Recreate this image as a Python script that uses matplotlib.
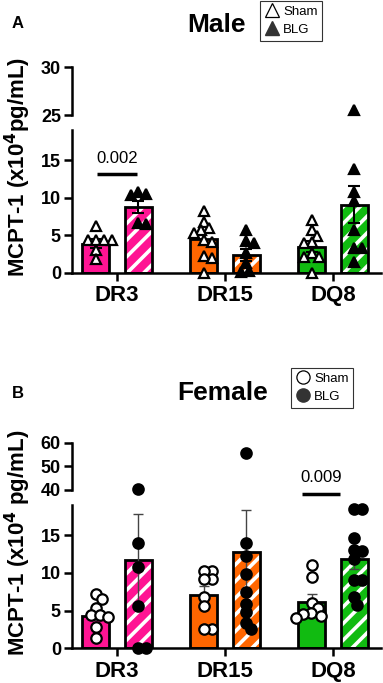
import numpy as np
import matplotlib
matplotlib.use('Agg')
import matplotlib.pyplot as plt
from matplotlib.lines import Line2D

plt.rcParams['font.family'] = ['Liberation Sans', 'DejaVu Sans']
plt.rcParams['hatch.linewidth'] = 2.6

# data (x10^4 pg/mL)
genotypes = ['DR3', 'DR15', 'DQ8']
colors = ['#FF1493', '#FF6600', '#11BB11']

male_sham = [
    [6.2, 4.4, 4.4, 4.4, 4.4, 3.0, 1.8],
    [8.2, 6.8, 6.0, 5.7, 5.3, 4.4, 4.1, 2.2, 2.0, 0.0],
    [7.0, 5.7, 4.9, 4.1, 4.0, 2.6, 2.1, 2.1, 0.0],
]
male_blg = [
    [10.8, 10.4, 10.5, 6.5, 6.6],
    [5.7, 4.2, 4.0, 2.6, 1.3, 0.3, 0.1],
    [25.5, 13.8, 10.8, 9.5, 5.7, 3.3, 3.3, 1.5],
]
male_sham_mean = [3.9, 4.5, 3.5]
male_sham_sem = [0.6, 0.8, 0.7]
male_blg_mean = [8.8, 2.4, 9.1]
male_blg_sem = [0.8, 0.8, 2.4]

female_sham = [
    [7.2, 6.5, 5.3, 4.4, 4.4, 4.2, 2.8, 1.4],
    [10.3, 10.3, 9.2, 9.2, 6.8, 5.6, 2.6, 2.6],
    [11.1, 9.4, 6.0, 5.3, 4.7, 4.5, 4.3, 4.0],
]
female_blg = [
    [40.4, 14.0, 10.8, 5.6, 0.0, 0.0],
    [55.6, 14.0, 12.3, 9.9, 7.4, 5.9, 4.8, 3.4, 2.5],
    [18.5, 18.5, 14.6, 13.0, 12.9, 11.8, 9.0, 9.0, 6.8, 5.8],
]
female_sham_mean = [4.3, 7.1, 6.1]
female_sham_sem = [0.6, 1.1, 1.1]
female_blg_mean = [11.7, 12.8, 11.9]
female_blg_sem = [6.1, 5.5, 1.4]

W, H = 383, 683
fig = plt.figure(figsize=(W / 100, H / 100), dpi=100)


def fx(px):
    return px / W


def fy(py):
    return 1 - py / H


XPX = 108.0  # pixels per category unit
OFF = 0.195
BW = 0.25


def swarm(vals, ypx, diam=8.0):
    # simple beeswarm, offsets in category units
    order = np.argsort(vals)[::-1]
    placed = []
    offs = np.zeros(len(vals))
    cands = np.arange(0, 30, 0.5)
    cands = np.concatenate([[0], np.ravel(np.column_stack([cands[1:], -cands[1:]]))])
    for i in order:
        y = vals[i] * ypx
        for c in cands:
            if all((c - px) ** 2 + (y - py) ** 2 >= diam ** 2 for px, py in placed):
                offs[i] = c / XPX
                placed.append((c, y))
                break
    return offs


def panel(top_px, lower_px, bottom_px, up_lim, up_ticks, sham, blg, sm, ss, bm, bs,
          marker, ecol, elw, cap, legend_box, title, title_xy, letter, letter_y, ylabel, sig):
    left, right = fx(72), fx(381)
    ax = fig.add_axes([left, fy(bottom_px), right - left, fy(lower_px) - fy(bottom_px)])
    axu = fig.add_axes([left, fy(top_px[1]), right - left, fy(top_px[0]) - fy(top_px[1])])
    xlim = (-(117 - 72) / XPX, 2 + (381 - 333) / XPX)
    ax.set_xlim(xlim)
    axu.set_xlim(xlim)
    ax.set_ylim(0, 19)
    axu.set_ylim(up_lim)
    ypx_low = (bottom_px - lower_px) / 19.0

    x = np.arange(len(genotypes))
    for i, c in enumerate(colors):
        xs, xb = x[i] - OFF, x[i] + OFF
        ax.bar(xs, sm[i], BW, color=c, edgecolor='black', linewidth=2, zorder=2)
        ax.bar(xb, bm[i], BW, color=c, edgecolor='white', hatch='//', linewidth=0, zorder=2)
        ax.bar(xb, bm[i], BW, fill=False, edgecolor='black', linewidth=2, zorder=2.1)
        ax.errorbar([xs, xb], [sm[i], bm[i]], yerr=[ss[i], bs[i]], fmt='none', ecolor=ecol,
                    elinewidth=elw, capsize=cap, capthick=elw, zorder=3)
        for vals, xc, face in [(sham[i], xs, 'white'), (blg[i], xb, 'black')]:
            vals = np.array(vals)
            offs = swarm(vals, ypx_low)
            lo = vals <= 19
            ax.plot(xc + offs[lo], vals[lo], linestyle='none', marker=marker, ms=7.5,
                    mfc=face, mec='black', mew=1.6, clip_on=False, zorder=4)
            hi = vals >= up_lim[0]
            if hi.any():
                axu.plot(np.full(hi.sum(), xc), vals[hi], linestyle='none', marker=marker, ms=7.5,
                         mfc=face, mec='black', mew=1.6, clip_on=False, zorder=4)

    for a in (ax, axu):
        a.spines['top'].set_visible(False)
        a.spines['right'].set_visible(False)
        a.spines['left'].set_linewidth(1.8)
        a.tick_params(axis='y', width=1.8, length=6, pad=2, labelsize=13)
    axu.spines['bottom'].set_visible(False)
    axu.set_xticks([])
    axu.set_yticks(up_ticks)
    axu.set_yticklabels([str(t) for t in up_ticks], fontweight='bold')
    ax.spines['bottom'].set_linewidth(1.8)
    ax.set_yticks([0, 5, 10, 15])
    ax.set_yticklabels(['0', '5', '10', '15'], fontweight='bold')
    ax.set_xticks(x)
    ax.set_xticklabels(genotypes, fontsize=16, fontweight='bold')
    ax.tick_params(axis='x', width=1.8, length=6, pad=3)

    # significance bar
    gi, ptxt, in_upper, x0, x1, ly, ty = sig
    tgt = axu if in_upper else ax
    tgt.plot([x[gi] + x0, x[gi] + x1], [ly, ly], color='black', lw=2.5,
             clip_on=False, solid_capstyle='butt')
    tgt.text(x[gi] + (x0 + x1) / 2, ty, ptxt, ha='center', va='center', fontsize=12, clip_on=False)

    fig.text(fx(title_xy[0]), fy(title_xy[1]), title, ha='center', va='center',
             fontsize=19, fontweight='bold')
    fig.text(fx(18), fy(letter_y), letter, ha='center', va='center', fontsize=12, fontweight='bold')
    fig.text(fx(18), fy((top_px[0] + bottom_px) / 2 - 3), ylabel, rotation=90, ha='center',
             va='center', fontsize=16, fontweight='bold')

    handles = [Line2D([], [], linestyle='none', marker=marker, ms=9.5, mfc='white', mec='black', mew=0.9),
               Line2D([], [], linestyle='none', marker=marker, ms=9.5, mfc='#333333', mec='#333333')]
    leg = fig.legend(handles, ['Sham', 'BLG'], loc='upper left',
                     bbox_to_anchor=(fx(legend_box[0]), fy(legend_box[1])),
                     frameon=True, fancybox=False, fontsize=9.5, handletextpad=0.3,
                     borderpad=0.35, labelspacing=0.45, handlelength=1.1, borderaxespad=0)
    leg.get_frame().set_edgecolor('black')
    leg.get_frame().set_linewidth(0.8)


panel((67, 115), 130, 273, (25, 30), [25, 30], male_sham, male_blg,
      male_sham_mean, male_sham_sem, male_blg_mean, male_blg_sem,
      '^', 'black', 1.5, 4.5, (260, 1), 'Male', (216, 25), 'A', 23,
      'MCPT-1 (x10$^\\mathbf{4}$pg/mL)', (0, '0.002', False, -0.185, 0.185, 13.1, 15.2))

panel((442.7, 490), 505, 648.3, (40, 60), [40, 50, 60], female_sham, female_blg,
      female_sham_mean, female_sham_sem, female_blg_mean, female_blg_sem,
      'o', '#444444', 1.0, 3.5, (291, 368), 'Female', (223, 393), 'B', 394,
      'MCPT-1 (x10$^\\mathbf{4}$ pg/mL)', (2, '0.009', True, -0.29, 0.065, 38.3, 45.2))

fig.savefig('out.png', dpi=100)
